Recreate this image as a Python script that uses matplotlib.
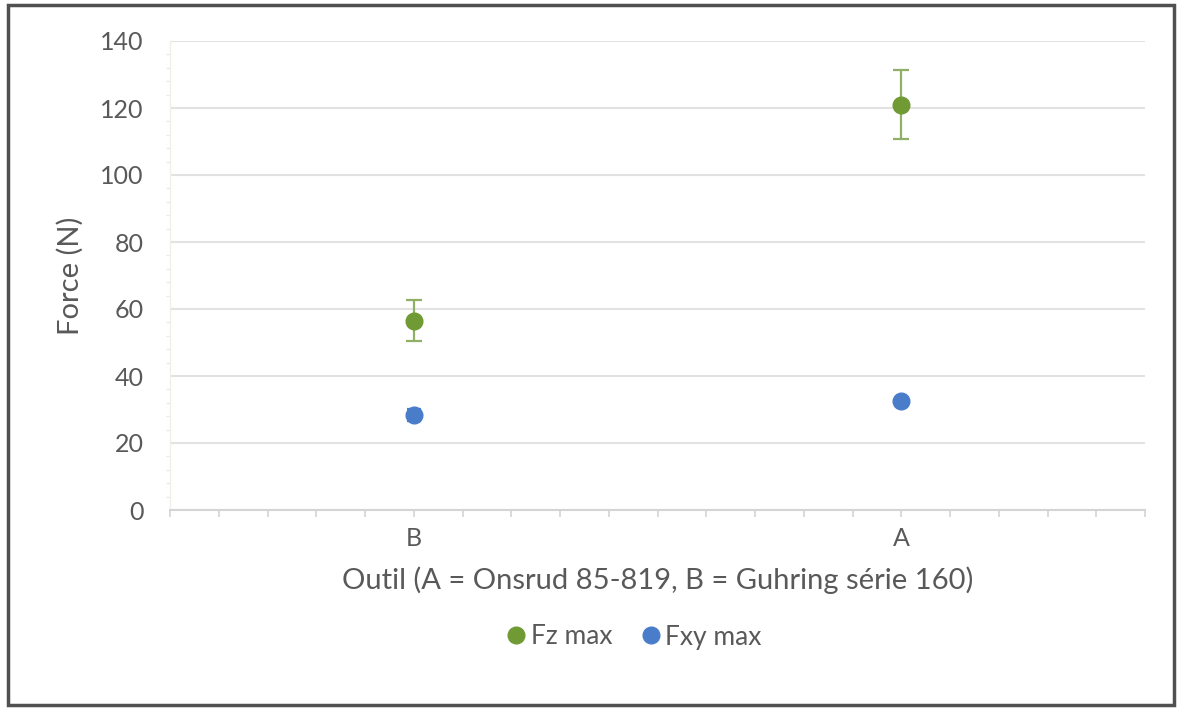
import matplotlib as mpl
mpl.use('Agg')
import matplotlib.pyplot as plt
import numpy as np
from matplotlib.patches import Rectangle

# data
tools = ["B", "A"]
tool_pos = [0.5, 1.5]
fz_max = [56.5, 121.0]
fz_err = [6.2, 10.2]
fxy_max = [28.3, 32.5]
fxy_err = [1.8, 0.0]

green = '#6f9a34'
green_err = '#8fb066'
blue = '#4a7dc9'
txt = '#595959'

plt.rcParams['font.family'] = ['Lato', 'DejaVu Sans']

fig = plt.figure(figsize=(11.79, 7.09), dpi=100)
ax = fig.add_axes([170/1179, 1 - 510/709, 975/1179, 469/709])

ax.errorbar(tool_pos, fz_max, yerr=fz_err, fmt='o', color=green, ecolor=green_err,
            elinewidth=1.6, capsize=6, capthick=1.6, markersize=12, label='Fz max', zorder=3)
ax.errorbar(tool_pos, fxy_max, yerr=fxy_err, fmt='o', color=blue, ecolor=blue,
            elinewidth=1.6, capsize=5, capthick=1.6, markersize=12, label='Fxy max', zorder=3)

ax.set_xlim(0, 2)
ax.set_ylim(0, 140)
ax.set_yticks(np.arange(0, 141, 20))
ax.set_yticks(np.arange(0, 141, 4), minor=True)
ax.set_xticks(tool_pos)
ax.set_xticklabels(tools)
ax.set_xticks(np.arange(0, 2.01, 0.1), minor=True)

ax.grid(axis='y', color='#e2e2e2', linewidth=1.5, zorder=0)
ax.set_axisbelow(True)
for s in ['top', 'right']:
    ax.spines[s].set_visible(False)
ax.spines['bottom'].set_color('#d4d4d4')
ax.spines['bottom'].set_linewidth(1.5)
ax.spines['left'].set_color('#f0f0e8')
ax.spines['left'].set_linewidth(1.0)

ax.tick_params(axis='x', which='major', length=5, color='#d4d4d4', width=1.2,
               labelsize=18, labelcolor=txt, pad=7)
ax.tick_params(axis='x', which='minor', length=5, color='#d4d4d4', width=1.2)
ax.tick_params(axis='y', which='major', length=0, labelsize=18, labelcolor=txt, pad=19)
ax.tick_params(axis='y', which='minor', length=3, color='#ecece4', width=1)

ax.set_ylabel('Force (N)', fontsize=21, color=txt)
ax.yaxis.set_label_coords(-0.088, 0.5)
ax.set_xlabel('Outil (A = Onsrud 85-819, B = Guhring série 160)', fontsize=21, color=txt)
ax.xaxis.set_label_coords(0.5, -0.12)

handles, labels = ax.get_legend_handles_labels()
handles = [h[0] for h in handles]
leg = fig.legend(handles, labels, loc='center', bbox_to_anchor=(633/1179, 1 - 637/709),
                 ncol=2, frameon=False, fontsize=19, handletextpad=0.1, columnspacing=1.0,
                 handlelength=0.9)
for t in leg.get_texts():
    t.set_color(txt)

fig.patches.append(Rectangle((8/1179, 4/709), 1166/1179, 700/709, transform=fig.transFigure,
                             fill=False, edgecolor='#505050', linewidth=2.5))

plt.savefig('out.png', dpi=100)
